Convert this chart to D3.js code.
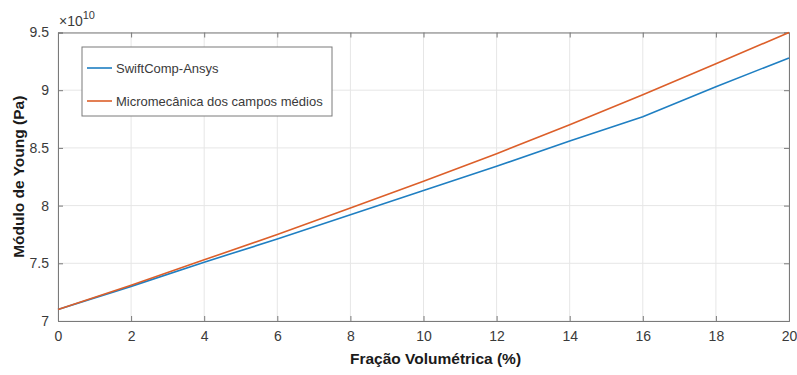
<!DOCTYPE html>
<html>
<head>
<meta charset="utf-8">
<script src="https://cdn.jsdelivr.net/npm/d3@7"></script>
<style>
  body { margin: 0; background: #fff; }
  svg text { font-family: "Liberation Sans", Arial, sans-serif; }
</style>
</head>
<body>
<script>
var fracao = [0, 2, 4, 6, 8, 10, 12, 14, 16, 18, 20];
var swiftComp = [7.10, 7.30, 7.51, 7.71, 7.92, 8.13, 8.34, 8.56, 8.77, 9.03, 9.28];
var micromec = [7.10, 7.31, 7.53, 7.75, 7.98, 8.21, 8.45, 8.70, 8.96, 9.23, 9.50];
var xTicks = [0, 2, 4, 6, 8, 10, 12, 14, 16, 18, 20];
var yTicks = [7, 7.5, 8, 8.5, 9, 9.5];
var seriesNames = ["SwiftComp-Ansys", "Micromecânica dos campos médios"];
var seriesColors = ["#1f7fc2", "#dc5f2a"];

var W = 797, H = 375;
var m = { left: 58, right: 8, top: 32.5, bottom: 54 };

var svg = d3.select("body").append("svg")
    .attr("width", W)
    .attr("height", H);

var x = d3.scaleLinear().domain([0, 20]).range([m.left, W - m.right]);
var y = d3.scaleLinear().domain([7, 9.5]).range([H - m.bottom, m.top]);

var g = svg.append("g");

// grid
g.selectAll("line.gx").data(xTicks).enter().append("line")
    .attr("x1", d => x(d)).attr("x2", d => x(d))
    .attr("y1", y(7)).attr("y2", y(9.5))
    .attr("stroke", "#e6e6e6").attr("stroke-width", 1);
g.selectAll("line.gy").data(yTicks).enter().append("line")
    .attr("x1", x(0)).attr("x2", x(20))
    .attr("y1", d => y(d)).attr("y2", d => y(d))
    .attr("stroke", "#e6e6e6").attr("stroke-width", 1);

// axes
var tc = "#3a3a3a";
var xAxisB = d3.axisBottom(x).tickValues(xTicks).tickSize(-5).tickPadding(10).tickFormat(d3.format("d"));
var xAxisT = d3.axisTop(x).tickValues(xTicks).tickSize(-5).tickFormat("");
var yAxisL = d3.axisLeft(y).tickValues(yTicks).tickSize(-5).tickPadding(9).tickFormat(d => String(d));
var yAxisR = d3.axisRight(y).tickValues(yTicks).tickSize(-5).tickFormat("");

function style(sel) {
    sel.select(".domain").attr("stroke", "#7a7a7a").attr("stroke-width", 1);
    sel.selectAll(".tick line").attr("stroke", "#7a7a7a");
    sel.selectAll(".tick text").attr("fill", tc).style("font-size", "14px");
}
g.append("g").attr("transform", "translate(0," + y(7) + ")").call(xAxisB).call(style);
g.append("g").attr("transform", "translate(0," + y(9.5) + ")").call(xAxisT).call(style);
g.append("g").attr("transform", "translate(" + x(0) + ",0)").call(yAxisL).call(style);
g.append("g").attr("transform", "translate(" + x(20) + ",0)").call(yAxisR).call(style);

// lines
var data = [swiftComp, micromec];
var line = d3.line().x((d, i) => x(fracao[i])).y(d => y(d));
data.forEach(function (s, k) {
    g.append("path").datum(s)
        .attr("d", line)
        .attr("fill", "none")
        .attr("stroke", seriesColors[k])
        .attr("stroke-width", 1.6);
});

// exponent
var ex = svg.append("text").attr("x", 59).attr("y", 26).attr("fill", tc).style("font-size", "14px");
ex.append("tspan").text("×10");
ex.append("tspan").attr("dy", -7).style("font-size", "11px").text("10");

// labels
svg.append("text")
    .attr("x", (x(0) + x(20)) / 2 + 12).attr("y", 364)
    .attr("text-anchor", "middle")
    .attr("fill", "#1a1a1a")
    .style("font-size", "15.5px").style("font-weight", "bold")
    .text("Fração Volumétrica (%)");
svg.append("text")
    .attr("transform", "translate(24," + ((y(7) + y(9.5)) / 2) + ") rotate(-90)")
    .attr("text-anchor", "middle")
    .attr("fill", "#1a1a1a")
    .style("font-size", "15.5px").style("font-weight", "bold")
    .text("Módulo de Young (Pa)");

// legend
var lg = svg.append("g").attr("transform", "translate(82,47)");
lg.append("rect").attr("width", 250).attr("height", 69)
    .attr("fill", "#fff").attr("stroke", "#7a7a7a").attr("stroke-width", 1);
seriesNames.forEach(function (n, k) {
    var yy = 21 + k * 33;
    lg.append("line").attr("x1", 5).attr("x2", 30).attr("y1", yy).attr("y2", yy)
        .attr("stroke", seriesColors[k]).attr("stroke-width", 1.6);
    lg.append("text").attr("x", 34).attr("y", yy + 4.5)
        .attr("fill", tc).style("font-size", "13px").text(n);
});
</script>
</body>
</html>
